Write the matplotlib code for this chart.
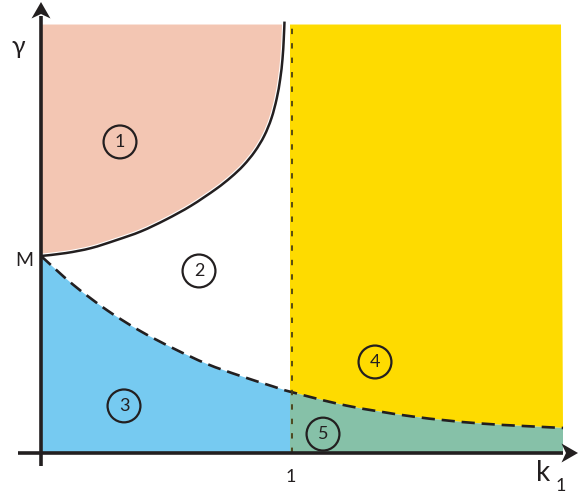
import matplotlib
matplotlib.use("Agg")
import matplotlib.pyplot as plt
from matplotlib.patches import Polygon, PathPatch
from matplotlib.path import Path
import matplotlib.transforms as mtransforms
import numpy as np

plt.rcParams['font.family'] = ['Lato', 'DejaVu Sans']

# ---- data (M = 1, k1 = 1 at the dotted line) ----
upper_x = [0.00, 0.10, 0.20, 0.30, 0.40, 0.50, 0.60, 0.70, 0.76, 0.81, 0.855, 0.893, 0.922, 0.943, 0.957, 0.966, 0.971, 0.974]
upper_y = [1.00, 1.015, 1.04, 1.08, 1.125, 1.185, 1.255, 1.34, 1.40, 1.46, 1.53, 1.61, 1.70, 1.80, 1.90, 2.00, 2.10, 2.19]

lower_x = [0.00, 0.128, 0.264, 0.396, 0.528, 0.664, 0.796, 0.928, 1.00, 1.224, 1.488, 1.756, 2.088]
lower_y = [1.00, 0.855, 0.725, 0.62, 0.532, 0.452, 0.392, 0.338, 0.310, 0.240, 0.185, 0.150, 0.127]

region_labels = ['1', '2', '3', '4', '5']
region_x = [0.316, 0.632, 0.332, 1.336, 1.128]
region_y = [1.579, 0.924, 0.239, 0.462, 0.096]

k_crit = 1.0
y_top = 2.175
x_right = 2.08

col_peach = '#F3C6B3'
col_yellow = '#FEDB00'
col_blue = '#76CAF1'
col_green = '#86C1A8'
col_line = '#231F20'

fig = plt.figure(figsize=(5.79, 4.98), dpi=100)
ax = fig.add_axes([0, 0, 1, 1])
ax.set_xlim(-41 / 250, 538 / 250)
ax.set_ylim(-45 / 197, 453 / 197)
ax.axis('off')


def smooth_segments(x, y):
    """Bezier (Catmull-Rom) segments through the given points."""
    P = np.column_stack([x, y]).astype(float)
    n = len(P)
    verts = []
    codes = []
    for i in range(n - 1):
        p0 = P[i - 1] if i > 0 else P[i]
        p1 = P[i]
        p2 = P[i + 1]
        p3 = P[i + 2] if i + 2 < n else P[i + 1]
        c1 = p1 + (p2 - p0) / 6.0
        c2 = p2 - (p3 - p1) / 6.0
        verts += [tuple(c1), tuple(c2), tuple(p2)]
        codes += [Path.CURVE4] * 3
    return verts, codes


def curve_path(x, y, pre=(), post=(), close=False):
    verts, codes = [], []
    for i, p in enumerate(pre):
        verts.append(p)
        codes.append(Path.MOVETO if i == 0 else Path.LINETO)
    start = (x[0], y[0])
    verts.append(start)
    codes.append(Path.LINETO if pre else Path.MOVETO)
    sv, sc = smooth_segments(x, y)
    verts += sv
    codes += sc
    for p in post:
        verts.append(p)
        codes.append(Path.LINETO)
    if close:
        verts.append(verts[0])
        codes.append(Path.CLOSEPOLY)
    return Path(verts, codes)


ux = np.array(upper_x); uy = np.array(upper_y)
lx = np.array(lower_x); ly = np.array(lower_y)
mask_r = lx >= k_crit
xr = lx[mask_r]; yr = ly[mask_r]
mask_l = lx <= k_crit
xl = lx[mask_l]; yl = ly[mask_l]
kx = k_crit - 0.004

# region 1 (peach): above the solid curve
p1 = curve_path(ux, uy, post=[(ux[-1], y_top), (0, y_top)], close=True)
ax.add_patch(PathPatch(p1, facecolor=col_peach, edgecolor='none', zorder=1))

# region 4 (yellow)
p4 = curve_path(xr, yr, pre=[(kx, y_top), (kx, yr[0])], post=[(x_right, y_top)], close=True)
ax.add_patch(PathPatch(p4, facecolor=col_yellow, edgecolor='none', zorder=1))

# region 5 (green)
p5 = curve_path(xr, yr, pre=[(kx, 0), (kx, yr[0])], post=[(xr[-1], 0)], close=True)
ax.add_patch(PathPatch(p5, facecolor=col_green, edgecolor='none', zorder=1))

# region 3 (blue)
p3 = curve_path(xl, yl, pre=[(0, 0)], post=[(kx, yl[-1]), (kx, 0)], close=True)
ax.add_patch(PathPatch(p3, facecolor=col_blue, edgecolor='none', zorder=1))

# curves
pu = curve_path(ux, uy)
ax.add_patch(PathPatch(pu, facecolor='none', edgecolor='white', lw=3.4, zorder=2))
ax.add_patch(PathPatch(pu, facecolor='none', edgecolor=col_line, lw=1.8, zorder=3))
pl = curve_path(lx, ly)
ax.add_patch(PathPatch(pl, facecolor='none', edgecolor=col_line, lw=1.9,
                       linestyle=(0, (5.0, 2.6)), zorder=3))
ax.plot([k_crit + 0.004, k_crit + 0.004], [0, y_top], color='#4A3F14', lw=1.3,
        linestyle=(0, (3, 5)), zorder=3)

# axes lines
ax.plot([0, 0], [-13 / 197, 2.22], color=col_line, lw=2.6, solid_capstyle='butt', zorder=5)
ax.plot([-23 / 250, 2.09], [0, 0], color=col_line, lw=2.6, solid_capstyle='butt', zorder=5)


def arrowhead(x, y, angle):
    pts = np.array([[0, 0], [-0.095, -0.165], [0, -0.12], [0.095, -0.165]])
    th = np.deg2rad(angle)
    R = np.array([[np.cos(th), -np.sin(th)], [np.sin(th), np.cos(th)]])
    pts = pts @ R.T
    tr = fig.dpi_scale_trans + mtransforms.ScaledTranslation(x, y, ax.transData)
    ax.add_patch(Polygon(pts, closed=True, facecolor=col_line, edgecolor='none',
                         transform=tr, zorder=6))


arrowhead(0, 451 / 197, 0)
arrowhead(537 / 250, 0, -90)

# circled region numbers
ax.scatter(region_x, region_y, s=560, facecolors='none', edgecolors=col_line,
           linewidths=1.6, zorder=7)
for lab, x, y in zip(region_labels, region_x, region_y):
    ax.text(x, y, lab, ha='center', va='center', fontsize=13, color=col_line, zorder=8)

# axis labels
ax.text(-23 / 250, (453 - 47) / 197, 'γ', ha='center', va='center', fontsize=18, color=col_line)
ax.text(-17 / 250, (453 - 261) / 197, 'M', ha='center', va='center', fontsize=14, color=col_line)
ax.text(1.0, (453 - 477) / 197, '1', ha='center', va='center', fontsize=13, color=col_line)
ax.text(502 / 250, (453 - 473) / 197, 'k', ha='center', va='center', fontsize=20, color=col_line)
ax.text(520 / 250, (453 - 486) / 197, '1', ha='center', va='center', fontsize=13, color=col_line)

fig.savefig('out.png', dpi=100)
